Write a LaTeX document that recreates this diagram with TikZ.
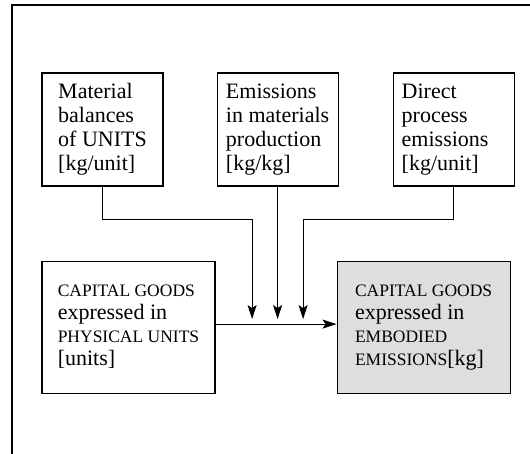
\documentclass[tikz,border=0pt]{standalone}
\usepackage{fontspec}
\setmainfont{Liberation Serif}
\usetikzlibrary{positioning}
\usetikzlibrary{arrows.meta}
\definecolor{embgray}{gray}{0.87}
\newcommand{\uc}[1]{{\fontsize{17.5}{23}\selectfont #1}}
\tikzset{srcbox/.style={draw, line width=1.1pt, minimum width=121pt, minimum height=113pt,
           align=left, inner sep=0pt, font=\fontsize{22}{24}\selectfont},
         goodsbox/.style={draw, line width=1.1pt, minimum width=173pt, minimum height=132pt,
           align=left, inner sep=0pt, font=\fontsize{22}{23}\selectfont},
         flow/.style={-{Stealth[length=14pt,width=9pt,inset=3pt]}, line width=1pt},
         }

\begin{document}
\begin{tikzpicture}[x=1pt, y=1pt,
	frame/.style={line width=2pt}]
\useasboundingbox (0,0) rectangle (530,-454);
\draw[frame] (12,-454) -- (12,-5) -- (530,-5);
\node[srcbox] (mat) at (102.5,-129.5) {Material\\balances\\of UNITS\\{}[kg/unit]};
\node[srcbox, right=53pt of mat] (emi) {Emissions\\in materials\\production\\{}[kg/kg]};
\node[srcbox, right=54pt of emi, text width=104pt, inner xsep=8pt] (dir)
    {Direct\\process\\emissions\\{}[kg/unit]};
\node[goodsbox, below=74pt of mat.south west, anchor=north west] (phys)
    {\uc{CAPITAL GOODS}\\expressed in\\\uc{PHYSICAL UNITS}\\{}[units]};
\node[goodsbox, fill=embgray, right=121pt of phys] (emb)
    {\uc{CAPITAL GOODS}\\expressed in\\\uc{EMBODIED}\\\uc{EMISSIONS}[kg]};
\coordinate[xshift=-25.5pt] (inl) at (emi.south |- phys.east);
\coordinate[xshift=25.5pt] (inr) at (emi.south |- phys.east);
\draw[flow] ([yshift=3pt]phys.east) -- ([yshift=3pt]emb.west);
\draw[flow, shorten >=8pt] (mat.south) -- ++(0,-33) -| (inl);
\draw[flow, shorten >=8pt] (emi.south) -- (emi.south |- phys.east);
\draw[flow, shorten >=8pt] (dir.south) -- ++(0,-33) -| (inr);
\end{tikzpicture}
\end{document}
